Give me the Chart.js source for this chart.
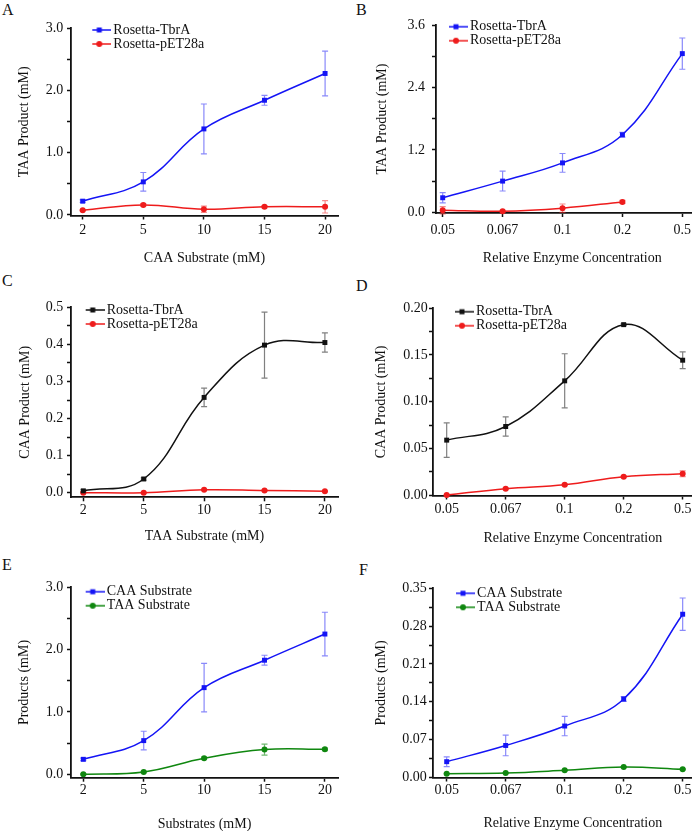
<!DOCTYPE html>
<html>
<head>
<meta charset="utf-8">
<script src="https://cdn.jsdelivr.net/npm/chart.js@4"></script>
<style>
  body { margin: 0; background: #fff; }
  #fig { position: relative; width: 700px; height: 831px; overflow: hidden; }
  canvas { position: absolute; }
  .lbl { position: absolute; font: 16px 'Liberation Serif', 'Times New Roman', serif; line-height: 16px; color: #111; }
</style>
</head>
<body>
<div id="fig">
  <div class="lbl" style="left:2px;top:2px">A</div>
  <div class="lbl" style="left:356px;top:2px">B</div>
  <div class="lbl" style="left:2px;top:273px">C</div>
  <div class="lbl" style="left:356px;top:278px">D</div>
  <div class="lbl" style="left:2px;top:557px">E</div>
  <div class="lbl" style="left:359px;top:562px">F</div>
  <canvas id="cA" width="350" height="270" style="left:0;top:0"></canvas>
  <canvas id="cB" width="350" height="270" style="left:350px;top:0"></canvas>
  <canvas id="cC" width="350" height="280" style="left:0;top:270px"></canvas>
  <canvas id="cD" width="350" height="280" style="left:350px;top:270px"></canvas>
  <canvas id="cE" width="350" height="281" style="left:0;top:550px"></canvas>
  <canvas id="cF" width="350" height="281" style="left:350px;top:550px"></canvas>
</div>
<script>
// x categories
const substrate = ['2', '5', '10', '15', '20'];
const enzyme = ['0.05', '0.067', '0.1', '0.2', '0.5'];

// y tick labels (majors), minors go half way between
const yTicksA = ['0.0', '1.0', '2.0', '3.0'];
const yTicksB = ['0.0', '1.2', '2.4', '3.6'];
const yTicksC = ['0.0', '0.1', '0.2', '0.3', '0.4', '0.5'];
const yTicksD = ['0.00', '0.05', '0.10', '0.15', '0.20'];
const yTicksE = ['0.0', '1.0', '2.0', '3.0'];
const yTicksF = ['0.00', '0.07', '0.14', '0.21', '0.28', '0.35'];

// A - TAA product vs CAA substrate
const aTbrA = [0.22, 0.53, 1.38, 1.84, 2.27];
const aTbrAErr = [0.02, 0.15, 0.40, 0.08, 0.36];
const aPet = [0.075, 0.16, 0.09, 0.13, 0.13];
const aPetErr = [0.01, 0.02, 0.05, 0.02, 0.10];

// B - TAA product vs enzyme
const bTbrA = [0.28, 0.60, 0.95, 1.49, 3.05];
const bTbrAErr = [0.10, 0.19, 0.18, 0.045, 0.30];
const bPet = [0.04, 0.02, 0.08, 0.20, null];
const bPetErr = [0.07, 0.02, 0.08, 0.03, 0];

// C - CAA product vs TAA substrate
const cTbrA = [0.005, 0.037, 0.257, 0.398, 0.405];
const cTbrAErr = [0.003, 0.003, 0.025, 0.089, 0.026];
const cPet = [0.0, 0.0, 0.008, 0.006, 0.004];
const cPetErr = [0.001, 0.001, 0.002, 0.002, 0.002];

// D - CAA product vs enzyme
const dTbrA = [0.0588, 0.0734, 0.1223, 0.1825, 0.1444];
const dTbrAErr = [0.0185, 0.0103, 0.029, 0.001, 0.009];
const dPet = [0.0, 0.0068, 0.011, 0.0196, 0.0228];
const dPetErr = [0.0005, 0.001, 0.001, 0.001, 0.003];

// E - products vs substrates
const eCaa = [0.24, 0.54, 1.39, 1.83, 2.25];
const eCaaErr = [0.02, 0.15, 0.39, 0.08, 0.35];
const eTaa = [0.0, 0.037, 0.257, 0.396, 0.40];
const eTaaErr = [0.01, 0.01, 0.02, 0.088, 0.02];

// F - products vs enzyme
const fCaa = [0.029, 0.059, 0.095, 0.145, 0.302];
const fCaaErr = [0.009, 0.019, 0.018, 0.0045, 0.030];
const fTaa = [0.0068, 0.008, 0.013, 0.019, 0.015];
const fTaaErr = [0.0005, 0.0005, 0.001, 0.001, 0.001];

const BLUE = '#1414f5', RED = '#ee1c1c', BLACK = '#111', GREEN = '#0f870f';
const BLUE_E = 'rgba(40,40,245,0.55)', RED_E = 'rgba(238,40,40,0.55)', BLACK_E = 'rgba(60,60,60,0.65)', GREEN_E = 'rgba(15,135,15,0.6)';

Chart.defaults.font.family = "'Liberation Serif', 'Times New Roman', serif";
Chart.defaults.font.size = 14;
Chart.defaults.color = '#111';

// line + marker icon for the legend (Origin style)
function legendIcon(color, style) {
  let c = document.createElement('canvas');
  c.width = 24; c.height = 8;
  let g = c.getContext('2d');
  g.strokeStyle = color; g.fillStyle = color; g.lineWidth = 1.5;
  g.beginPath(); g.moveTo(0, 4); g.lineTo(24, 4); g.stroke();
  if (style === 'rect') g.fillRect(9.5, 1.5, 5, 5);
  else { g.beginPath(); g.arc(12, 4, 3, 0, Math.PI * 2); g.fill(); }
  return c;
}

function series(label, vals, errs, color, errColor, style) {
  return {
    label: label,
    data: vals.map((v, i) => ({x: i, y: v})),
    errors: errs, errorColor: errColor,
    borderColor: color, backgroundColor: color, borderWidth: 1.5,
    pointStyle: style, pointRadius: style === 'rect' ? 3.5 : 3, pointBorderWidth: 0,
    tension: 0.4, fill: false, clip: false,
    legendIcon: legendIcon(color, style)
  };
}

const errorBars = {
  id: 'errorBars',
  beforeDatasetsDraw(chart) {
    const ctx = chart.ctx, y = chart.scales.y;
    chart.data.datasets.forEach((ds, i) => {
      const meta = chart.getDatasetMeta(i);
      ctx.save();
      ctx.strokeStyle = ds.errorColor;
      ctx.lineWidth = 1.2;
      meta.data.forEach((pt, j) => {
        const v = ds.data[j].y, e = ds.errors[j];
        if (v == null || !e) return;
        const top = y.getPixelForValue(v + e), bot = y.getPixelForValue(v - e);
        ctx.beginPath();
        ctx.moveTo(pt.x, top); ctx.lineTo(pt.x, bot);
        ctx.moveTo(pt.x - 3, top); ctx.lineTo(pt.x + 3, top);
        ctx.moveTo(pt.x - 3, bot); ctx.lineTo(pt.x + 3, bot);
        ctx.stroke();
      });
      ctx.restore();
    });
  }
};

// move the chartArea legend off the corner of the plot
// (a vertical legend gets top = 0 from setDimensions, so y is from the canvas top)
const legendShift = {
  id: 'legendShift',
  afterLayout(chart, args, opts) {
    const l = chart.legend;
    if (!l) return;
    const h = l.bottom - l.top;
    l.left += opts.dx; l.right += opts.dx;
    l.top = opts.y; l.bottom = opts.y + h;
  }
};

function makeChart(id, p) {
  const majors = p.yTicks.map(Number);
  const step = majors[1] - majors[0];
  const yVals = [];
  majors.forEach((v, i) => { yVals.push(v); if (i < majors.length - 1) yVals.push(v + step / 2); });
  // leading spaces nudge the centred x title to the right, like the original
  const xTitle = ' '.repeat(p.xTitleShift || 0) + p.xTitle;

  return new Chart(document.getElementById(id), {
    type: 'line',
    data: {datasets: p.datasets},
    options: {
      responsive: false, animation: false, events: [],
      layout: {padding: {top: p.area[1], right: p.w - p.area[2], left: 0, bottom: 0}},
      scales: {
        x: {
          type: 'linear', min: p.xMin, max: p.xMax,
          afterFit: s => { s.height = p.h - p.area[3]; },
          afterBuildTicks: s => { s.ticks = p.cats.map((c, i) => ({value: i})); },
          ticks: {callback: (v, i) => p.cats[i], padding: p.xPad, maxRotation: 0, autoSkip: false},
          grid: {drawOnChartArea: false, tickLength: 4, tickWidth: 1.5, tickColor: '#111'},
          border: {color: '#111', width: 1.8},
          title: {display: true, text: xTitle, padding: {top: 0, bottom: p.xTitlePad}}
        },
        y: {
          type: 'linear', min: p.yMin, max: p.yMax,
          afterFit: s => { s.width = p.area[0]; },
          afterBuildTicks: s => { s.ticks = yVals.map(v => ({value: v})); },
          ticks: {callback: (v, i) => i % 2 === 0 ? p.yTicks[i / 2] : '', padding: p.yPad, autoSkip: false},
          grid: {drawOnChartArea: false, tickLength: 4, tickWidth: 1.5, tickColor: '#111'},
          border: {color: '#111', width: 1.8},
          title: {display: true, text: p.yTitle, padding: {top: p.yTitlePad, bottom: 0}}
        }
      },
      plugins: {
        tooltip: {enabled: false},
        legend: {
          position: 'chartArea', align: 'start',
          labels: {
            usePointStyle: true, pointStyleWidth: 14, padding: 0, color: '#111',
            generateLabels: chart => chart.data.datasets.map((ds, i) => ({
              text: ds.label, pointStyle: ds.legendIcon, datasetIndex: i, lineWidth: 0, hidden: false, fontColor: '#111'
            }))
          }
        },
        legendShift: {dx: p.legend[0], y: p.legend[1]}
      }
    },
    plugins: [errorBars, legendShift]
  });
}

// area = [left, top, right, bottom] of the plot inside each canvas
makeChart('cA', {
  w: 350, h: 270, area: [71, 28, 338, 215.5], xMin: -0.193, xMax: 4.213, yMin: -0.01, yMax: 3.0,
  cats: substrate, yTicks: yTicksA, xTitle: 'CAA Substrate (mM)', yTitle: 'TAA Product (mM)',
  xPad: 2, yPad: 3.7, xTitlePad: 3.6, yTitlePad: 15.6, legend: [21.3, 23],
  datasets: [
    series('Rosetta-TbrA', aTbrA, aTbrAErr, BLUE, BLUE_E, 'rect'),
    series('Rosetta-pET28a', aPet, aPetErr, RED, RED_E, 'circle')
  ]
});

makeChart('cB', {
  w: 350, h: 270, area: [86, 25, 341, 213], xMin: -0.112, xMax: 4.145, yMin: -0.013, yMax: 3.6,
  cats: enzyme, yTicks: yTicksB, xTitle: 'Relative Enzyme Concentration', xTitleShift: 5, yTitle: 'TAA Product (mM)',
  xPad: 4.6, yPad: 7, xTitlePad: 3.3, yTitlePad: 24.1, legend: [13, 19.7],
  datasets: [
    series('Rosetta-TbrA', bTbrA, bTbrAErr, BLUE, BLUE_E, 'rect'),
    series('Rosetta-pET28a', bPet, bPetErr, RED, RED_E, 'circle')
  ]
});

makeChart('cC', {
  w: 350, h: 280, area: [71, 37.3, 338, 227.3], xMin: -0.204, xMax: 4.217, yMin: -0.0124, yMax: 0.5,
  cats: substrate, yTicks: yTicksC, xTitle: 'TAA Substrate (mM)', yTitle: 'CAA Product (mM)',
  xPad: 1, yPad: 3.7, xTitlePad: 4.9, yTitlePad: 16.6, legend: [14.7, 33],
  datasets: [
    series('Rosetta-TbrA', cTbrA, cTbrAErr, BLACK, BLACK_E, 'rect'),
    series('Rosetta-pET28a', cPet, cPetErr, RED, RED_E, 'circle')
  ]
});

makeChart('cD', {
  w: 350, h: 280, area: [83, 38.3, 341.7, 225.5], xMin: -0.232, xMax: 4.153, yMin: -0.0005, yMax: 0.2,
  cats: enzyme, yTicks: yTicksD, xTitle: 'Relative Enzyme Concentration', xTitleShift: 6, yTitle: 'CAA Product (mM)',
  xPad: 1.4, yPad: 1.3, xTitlePad: 3.3, yTitlePad: 23.1, legend: [22, 34.7],
  datasets: [
    series('Rosetta-TbrA', dTbrA, dTbrAErr, BLACK, BLACK_E, 'rect'),
    series('Rosetta-pET28a', dPet, dPetErr, RED, RED_E, 'circle')
  ]
});

makeChart('cE', {
  w: 350, h: 281, area: [71, 37.3, 338, 227.7], xMin: -0.204, xMax: 4.217, yMin: -0.055, yMax: 3.0,
  cats: substrate, yTicks: yTicksE, xTitle: 'Substrates (mM)', yTitle: 'Products (mM)',
  xPad: 0.6, yPad: 3.7, xTitlePad: -1.4, yTitlePad: 15.6, legend: [14.7, 34.7],
  datasets: [
    series('CAA Substrate', eCaa, eCaaErr, BLUE, BLUE_E, 'rect'),
    series('TAA Substrate', eTaa, eTaaErr, GREEN, GREEN_E, 'circle')
  ]
});

makeChart('cF', {
  w: 350, h: 281, area: [83, 38.3, 341.7, 227.5], xMin: -0.232, xMax: 4.153, yMin: -0.0003, yMax: 0.35,
  cats: enzyme, yTicks: yTicksF, xTitle: 'Relative Enzyme Concentration', xTitleShift: 6, yTitle: 'Products (mM)',
  xPad: 0.8, yPad: 2.3, xTitlePad: -0.7, yTitlePad: 23.1, legend: [23, 36.3],
  datasets: [
    series('CAA Substrate', fCaa, fCaaErr, BLUE, BLUE_E, 'rect'),
    series('TAA Substrate', fTaa, fTaaErr, GREEN, GREEN_E, 'circle')
  ]
});
</script>
</body>
</html>
